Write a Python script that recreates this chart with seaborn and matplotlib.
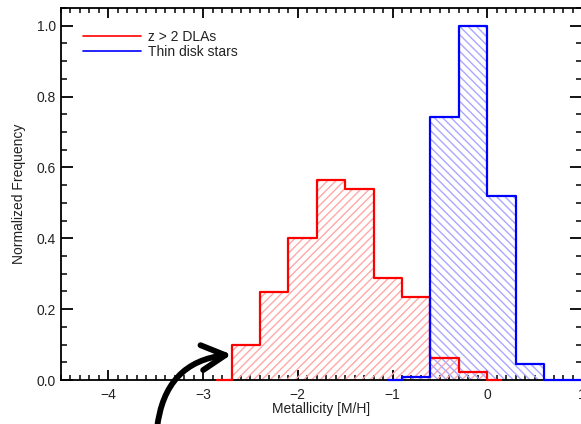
import numpy as np
import pandas as pd
import matplotlib
matplotlib.use("Agg")
import matplotlib.pyplot as plt
from matplotlib.ticker import MultipleLocator
import seaborn as sns

# ---- data ----
dla_edges = [-2.85, -2.7, -2.4, -2.1, -1.8, -1.5, -1.2, -0.9, -0.6, -0.3, 0.0, 0.15]
dla_freq = [0.0, 0.099, 0.249, 0.40, 0.565, 0.54, 0.287, 0.235, 0.061, 0.023, 0.0]

star_edges = [-1.05, -0.9, -0.6, -0.3, 0.0, 0.3, 0.6, 1.0]
star_freq = [0.0, 0.009, 0.742, 1.0, 0.52, 0.044, 0.0]

series_labels = ["z > 2 DLAs", "Thin disk stars"]
x_label = "Metallicity [M/H]"
y_label = "Normalized Frequency"

sns.set_style("ticks")
plt.rcParams["font.family"] = ["Liberation Sans", "DejaVu Sans"]
plt.rcParams["hatch.linewidth"] = 1.0

FS = 10

fig = plt.figure(figsize=(5.81, 4.24), dpi=100)
ax = fig.add_axes([61 / 581, 44 / 424, 521 / 581, 372 / 424])


def midpoints(edges):
    e = np.asarray(edges)
    return (e[:-1] + e[1:]) / 2


dla = pd.DataFrame({"m": midpoints(dla_edges), "f": dla_freq})
star = pd.DataFrame({"m": midpoints(star_edges), "f": star_freq})

# hatched fills
sns.histplot(data=dla, x="m", weights="f", bins=dla_edges, element="step",
             fill=True, color="#ffaaaa", facecolor="none", edgecolor="#ffa8a8",
             linewidth=0, hatch="////", ax=ax, zorder=1)
sns.histplot(data=star, x="m", weights="f", bins=star_edges, element="step",
             fill=True, color="#aaaaff", facecolor="none", edgecolor="#a8a8ff",
             linewidth=0, hatch="\\\\\\\\", ax=ax, zorder=1)
# outlines
sns.histplot(data=dla, x="m", weights="f", bins=dla_edges, element="step",
             fill=False, color="#ff0000", linewidth=1.6, ax=ax, zorder=3,
             clip_on=False, label=series_labels[0])
sns.histplot(data=star, x="m", weights="f", bins=star_edges, element="step",
             fill=False, color="#0000ff", linewidth=1.6, ax=ax, zorder=4,
             clip_on=False, label=series_labels[1])

ax.set_xlim(-4.5, 1.0)
ax.set_ylim(0, 1.05)
ax.xaxis.set_major_locator(MultipleLocator(1))
ax.xaxis.set_minor_locator(MultipleLocator(0.1))
ax.yaxis.set_major_locator(MultipleLocator(0.2))
ax.yaxis.set_minor_locator(MultipleLocator(0.05))
ax.yaxis.set_major_formatter(matplotlib.ticker.FormatStrFormatter("%.1f"))
ax.xaxis.set_major_formatter(matplotlib.ticker.FuncFormatter(
    lambda v, p: f"{int(round(v))}".replace("-", "\u2212")))

ax.tick_params(which="both", direction="in", top=True, right=True,
               color="black", labelsize=FS, labelcolor="#222222")
ax.tick_params(axis="x", which="major", length=7, width=1.3, pad=6)
ax.tick_params(axis="x", which="minor", length=3.8, width=1.1)
ax.tick_params(axis="y", which="major", length=8.5, width=1.3, pad=3.5)
ax.tick_params(axis="y", which="minor", length=4.5, width=1.1)
for s in ax.spines.values():
    s.set_linewidth(1.3)
    s.set_color("black")
    s.set_visible(True)

ax.set_xlabel(x_label, fontsize=FS, labelpad=0, color="#222222")
ax.set_ylabel(y_label, fontsize=FS, labelpad=8, color="#222222")

ax.legend(loc="upper left", bbox_to_anchor=(0.042, 0.942), frameon=False,
          fontsize=FS, handlelength=4.2, handletextpad=0.5,
          labelspacing=0.12, borderaxespad=0, borderpad=0)
leg = ax.get_legend()
for line in leg.get_lines():
    line.set_linewidth(1.2)
for t in leg.get_texts():
    t.set_color("#222222")

# hand-drawn style annotation arrow pointing to the first DLA bin
ax.annotate("", xy=(-2.70, 0.072), xycoords="data",
            xytext=(157 / 581, -0.01), textcoords="figure fraction",
            arrowprops=dict(arrowstyle="->,head_length=0.85,head_width=0.45",
                            connectionstyle="arc3,rad=-0.4",
                            color="black", lw=4.2, mutation_scale=20,
                            shrinkA=0, shrinkB=0),
            annotation_clip=False)

fig.savefig("out.png", dpi=100)
